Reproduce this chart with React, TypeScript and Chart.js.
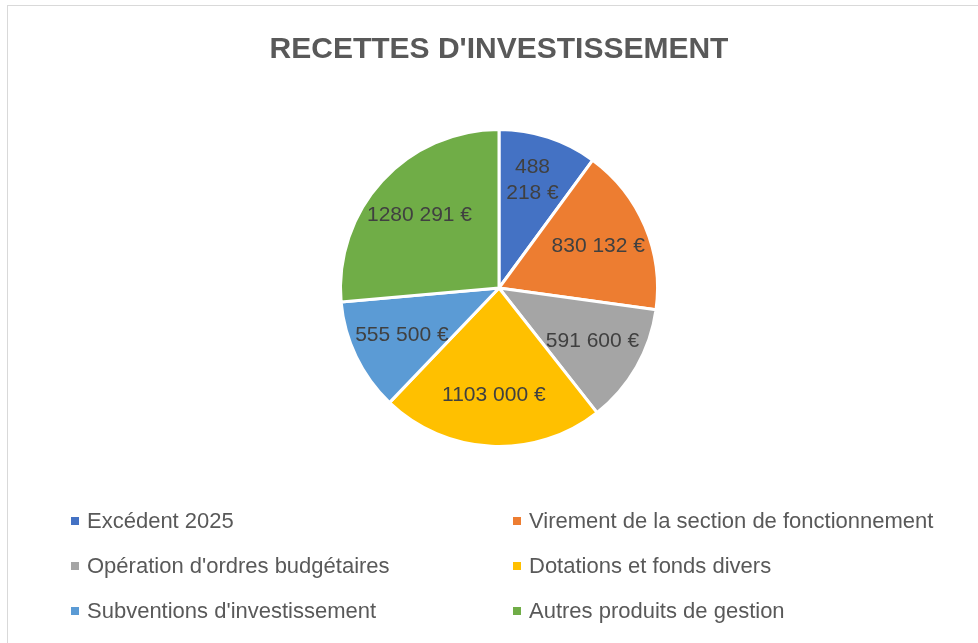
import React, { useEffect, useRef } from "react";
import { Chart, registerables } from "chart.js";

Chart.register(...registerables);

const chartTitle = "RECETTES D'INVESTISSEMENT";
const categories = [
  "Excédent 2025",
  "Virement de la section de fonctionnement",
  "Opération d'ordres budgétaires",
  "Dotations et fonds divers",
  "Subventions d'investissement",
  "Autres produits de gestion",
];
const values = [488218, 830132, 591600, 1103000, 555500, 1280291];
const colors = ["#4472C4", "#ED7D31", "#A5A5A5", "#FFC000", "#5B9BD5", "#70AD47"];

const FONT = "'Liberation Sans', Arial, sans-serif";

function fmt(v: number): string {
  const hi = Math.floor(v / 1000);
  const lo = String(v % 1000).padStart(3, "0");
  return hi > 0 ? `${hi} ${lo} €` : `${lo} €`;
}

const framePlugin = {
  id: "frame",
  beforeDraw(chart: any) {
    const ctx = chart.ctx;
    ctx.save();
    ctx.fillStyle = "#ffffff";
    ctx.fillRect(0, 0, chart.width, chart.height);
    ctx.strokeStyle = "#d9d9d9";
    ctx.lineWidth = 1;
    ctx.strokeRect(7.5, 5.5, chart.width + 10, chart.height + 10);
    ctx.restore();
  },
};

const labelPlugin = {
  id: "sliceLabels",
  afterDatasetsDraw(chart: any) {
    const ctx = chart.ctx;
    const meta = chart.getDatasetMeta(0);
    ctx.save();
    ctx.font = `21px ${FONT}`;
    ctx.fillStyle = "#404040";
    ctx.textAlign = "center";
    ctx.textBaseline = "middle";
    meta.data.forEach((arc: any, i: number) => {
      const p = arc.getProps(["x", "y", "startAngle", "endAngle", "outerRadius"], true);
      const mid = (p.startAngle + p.endAngle) / 2;
      const r = p.outerRadius * 0.68;
      const px = p.x + Math.cos(mid) * r;
      const py = p.y + Math.sin(mid) * r;
      const text = fmt(chart.data.datasets[0].data[i]);
      const span = p.endAngle - p.startAngle;
      if (span < 0.7) {
        const idx = text.indexOf(" ");
        const l1 = text.slice(0, idx);
        const l2 = text.slice(idx + 1);
        ctx.fillText(l1, px, py - 18);
        ctx.fillText(l2, px, py + 8);
      } else {
        ctx.fillText(text, px, py);
      }
    });
    ctx.restore();
  },
};

const legendPlugin = {
  id: "gridLegend",
  afterDraw(chart: any) {
    const ctx = chart.ctx;
    const labels: string[] = chart.data.labels;
    const bg: string[] = chart.data.datasets[0].backgroundColor;
    const colX = [71, 513];
    const top = chart.chartArea.bottom + 73;
    const rowH = 45;
    ctx.save();
    ctx.font = `22px ${FONT}`;
    ctx.textBaseline = "middle";
    ctx.textAlign = "left";
    labels.forEach((lab, i) => {
      const col = i % 2;
      const row = Math.floor(i / 2);
      const x = colX[col];
      const y = top + row * rowH;
      ctx.fillStyle = bg[i];
      ctx.fillRect(x, y - 4, 8, 8);
      ctx.fillStyle = "#595959";
      ctx.fillText(lab, x + 16, y + 1);
    });
    ctx.restore();
  },
};

export default function App() {
  const ref = useRef<HTMLCanvasElement | null>(null);
  useEffect(() => {
    document.body.style.margin = "0";
    if (!ref.current) return;
    const chart = new Chart(ref.current, {
      type: "pie",
      data: {
        labels: categories,
        datasets: [
          {
            data: values,
            backgroundColor: colors,
            borderColor: "#ffffff",
            borderWidth: 3,
          },
        ],
      },
      options: {
        responsive: false,
        animation: false,
        layout: { padding: { left: 20, right: 0, top: 0, bottom: 195 } },
        plugins: {
          legend: { display: false },
          tooltip: { enabled: false },
          title: {
            display: true,
            text: chartTitle,
            color: "#595959",
            font: { family: FONT, size: 30, weight: "bold" },
            padding: { top: 32, bottom: 60 },
          },
        },
      },
      plugins: [framePlugin, labelPlugin, legendPlugin],
    });
    return () => chart.destroy();
  }, []);
  return (
    <div style={{ width: 978, height: 643 }}>
      <canvas ref={ref} width={978} height={643} />
    </div>
  );
}
